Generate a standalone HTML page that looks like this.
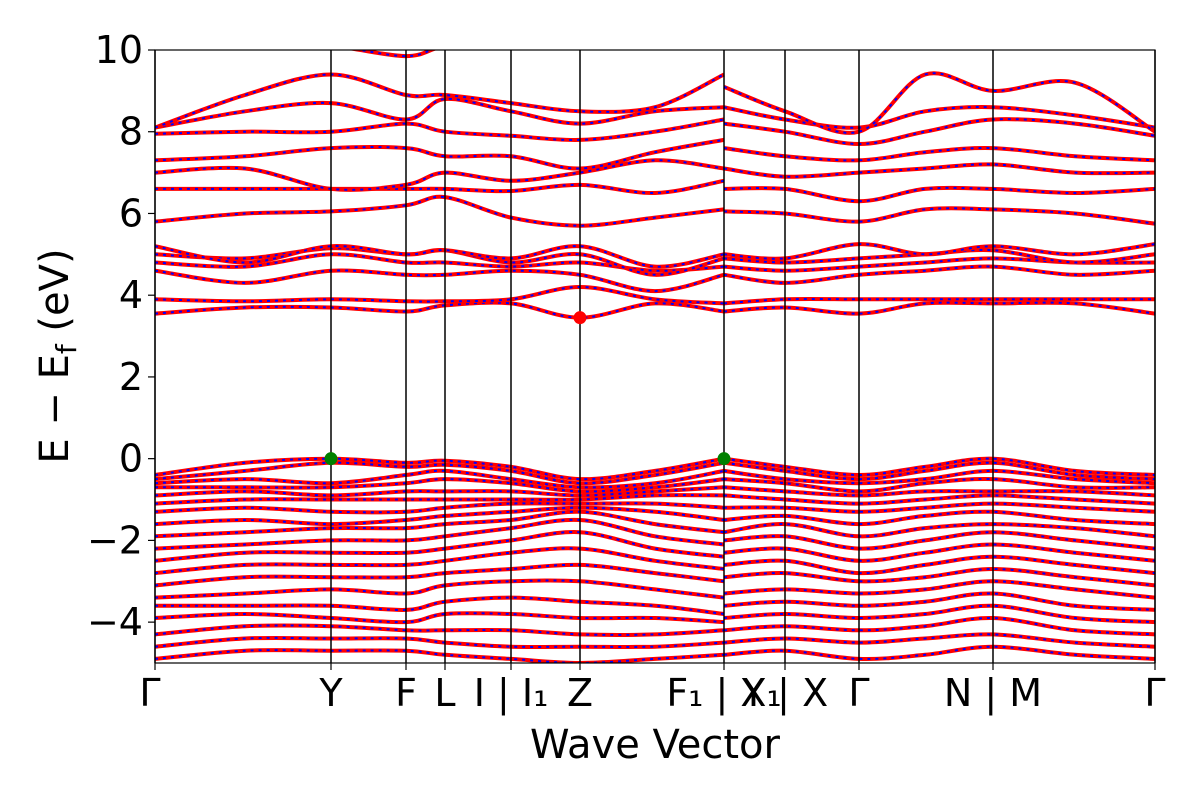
<!DOCTYPE html>
<html><head><meta charset="utf-8"><style>
body{margin:0;background:#fff}
svg text{font-family:"DejaVu Sans","Liberation Sans",sans-serif;fill:#000}
</style></head><body>
<svg id="chart" width="1200" height="800" viewBox="0 0 1200 800" xmlns="http://www.w3.org/2000/svg">
<defs><clipPath id="plotclip"><rect x="155" y="50" width="1000" height="613"/></clipPath></defs>
<g id="bands" clip-path="url(#plotclip)"></g>
<g id="vlines"></g>
<g id="dots"></g>
<rect x="155" y="50" width="1000" height="613" fill="none" stroke="#000" stroke-width="1.2"/>
<g id="yticks"></g>
<g id="xticks"></g>
<text x="655" y="758" font-size="40" text-anchor="middle">Wave Vector</text>
<text transform="translate(68,356) rotate(-90)" font-size="40" text-anchor="middle">E − E<tspan font-size="28" dy="8">f</tspan><tspan dy="-8"> (eV)</tspan></text>
</svg>
<script>
const kNodes=[0,0.9,1.76,2.51,2.90,3.56,4.25,5.0,5.69,5.69,6.30,7.04,7.7,8.38,9.2,10.0];
const symK=[0,1.76,2.51,2.90,3.56,4.25,5.69,6.30,7.04,8.38,10.0];
const symLabels=["Γ","Y","F","L","I | I₁","Z","F₁ | X₁","Y | X","Γ","N | M","Γ"];
const yTicks=[10,8,6,4,2,0,-2,-4];
const yTickLabels=["10","8","6","4","2","0","−2","−4"];
const conduction=[
[3.55,3.7,3.7,3.6,3.75,3.8,3.45,3.8,3.6,3.6,3.7,3.55,3.8,3.8,3.8,3.55],
[3.9,3.85,3.9,3.85,3.85,3.9,4.2,3.9,3.8,3.8,3.9,3.9,3.9,3.9,3.9,3.9],
[4.6,4.3,4.6,4.5,4.5,4.6,4.5,4.1,4.5,4.5,4.3,4.5,4.6,4.7,4.5,4.6],
[4.8,4.7,5.0,4.8,4.8,4.7,4.8,4.6,4.7,4.7,4.6,4.7,4.8,4.9,4.8,4.8],
[5.0,4.9,5.15,5.0,5.1,4.8,5.0,4.5,4.9,4.9,4.8,4.9,5.0,5.1,4.8,5.0],
[5.2,4.8,5.2,5.0,5.1,4.9,5.2,4.7,5.0,5.0,4.9,5.25,5.0,5.2,5.0,5.25],
[5.8,6.0,6.05,6.2,6.4,5.9,5.7,5.9,6.1,6.05,6.0,5.8,6.1,6.1,6.0,5.75],
[6.6,6.6,6.6,6.6,6.6,6.55,6.7,6.5,6.8,6.6,6.6,6.3,6.6,6.6,6.5,6.6],
[7.0,7.1,6.6,6.7,7.0,6.8,7.0,7.3,7.1,7.1,6.9,7.0,7.1,7.2,7.0,7.0],
[7.3,7.4,7.6,7.6,7.4,7.4,7.1,7.5,7.8,7.6,7.4,7.3,7.5,7.6,7.4,7.3],
[7.95,8.0,8.0,8.2,8.0,7.9,7.8,8.0,8.3,8.2,8.0,7.7,8.0,8.3,8.2,7.9],
[8.1,8.5,8.7,8.3,8.8,8.5,8.2,8.5,8.6,8.6,8.3,8.1,8.5,8.6,8.4,8.1],
[8.1,8.9,9.4,8.9,8.9,8.7,8.5,8.6,9.4,9.1,8.5,8.0,9.4,9.0,9.2,8.0],
[10.3,10.2,10.1,9.85,10.1,10.3,10.5,10.5,10.5,10.3,10.3,10.3,10.2,10.1,10.05,10.3]];
const valence=[
[-0.4,-0.1,0,-0.1,-0.05,-0.2,-0.5,-0.3,0,0,-0.2,-0.4,-0.2,0,-0.3,-0.4],
[-0.5,-0.3,-0.1,-0.2,-0.15,-0.3,-0.6,-0.4,-0.1,-0.1,-0.3,-0.5,-0.3,-0.1,-0.4,-0.5],
[-0.6,-0.5,-0.6,-0.4,-0.3,-0.5,-0.7,-0.6,-0.3,-0.3,-0.5,-0.6,-0.5,-0.3,-0.5,-0.6],
[-0.7,-0.7,-0.7,-0.6,-0.5,-0.6,-0.8,-0.7,-0.5,-0.5,-0.6,-0.8,-0.6,-0.5,-0.7,-0.7],
[-0.9,-0.8,-0.9,-0.8,-0.8,-0.8,-0.9,-0.8,-0.7,-0.7,-0.8,-0.9,-0.8,-0.8,-0.8,-0.9],
[-1.1,-1.0,-1.0,-1.0,-1.0,-1.0,-1.0,-0.9,-0.9,-0.9,-1.0,-1.1,-1.0,-0.9,-1.0,-1.1],
[-1.3,-1.2,-1.3,-1.3,-1.2,-1.1,-1.1,-1.1,-1.2,-1.2,-1.2,-1.3,-1.2,-1.1,-1.2,-1.3],
[-1.6,-1.5,-1.6,-1.5,-1.4,-1.3,-1.2,-1.3,-1.5,-1.5,-1.4,-1.6,-1.4,-1.3,-1.5,-1.6],
[-1.9,-1.8,-1.7,-1.7,-1.6,-1.5,-1.3,-1.6,-1.8,-1.8,-1.6,-1.9,-1.7,-1.6,-1.7,-1.9],
[-2.2,-2.1,-2.0,-2.0,-1.9,-1.7,-1.5,-1.9,-2.1,-2.0,-1.9,-2.2,-2.0,-1.8,-2.0,-2.2],
[-2.5,-2.3,-2.3,-2.3,-2.2,-2.0,-1.8,-2.2,-2.4,-2.3,-2.2,-2.5,-2.3,-2.1,-2.3,-2.5],
[-2.8,-2.6,-2.6,-2.6,-2.5,-2.3,-2.2,-2.5,-2.7,-2.6,-2.5,-2.8,-2.6,-2.4,-2.6,-2.8],
[-3.1,-2.9,-2.9,-2.9,-2.8,-2.7,-2.6,-2.8,-3.0,-2.9,-2.8,-3.0,-2.9,-2.7,-2.9,-3.1],
[-3.4,-3.3,-3.2,-3.3,-3.1,-3.0,-3.0,-3.2,-3.4,-3.3,-3.2,-3.3,-3.2,-3.0,-3.2,-3.4],
[-3.6,-3.6,-3.6,-3.7,-3.5,-3.4,-3.5,-3.6,-3.8,-3.6,-3.5,-3.6,-3.5,-3.3,-3.6,-3.7],
[-3.9,-3.8,-3.9,-4.0,-3.8,-3.8,-3.9,-3.9,-4.0,-3.9,-3.8,-3.9,-3.8,-3.6,-3.9,-4.0],
[-4.3,-4.1,-4.1,-4.2,-4.2,-4.2,-4.3,-4.3,-4.2,-4.2,-4.1,-4.2,-4.1,-3.9,-4.2,-4.3],
[-4.6,-4.4,-4.4,-4.4,-4.5,-4.6,-4.6,-4.6,-4.5,-4.5,-4.4,-4.5,-4.4,-4.3,-4.5,-4.6],
[-4.9,-4.7,-4.7,-4.7,-4.8,-4.9,-5.0,-4.9,-4.8,-4.8,-4.7,-4.9,-4.8,-4.6,-4.8,-4.9]];
const vbmK=[1.76,5.69];const vbmE=[0,0];
const cbmK=[4.25];const cbmE=[3.45];

const NS="http://www.w3.org/2000/svg";
const X0=155,X1=1155,Y0=50,Y1=663,KMAX=10,EMIN=-5,EMAX=10;
const xs=k=>X0+(k/KMAX)*(X1-X0);
const ys=e=>Y1-(e-EMIN)/(EMAX-EMIN)*(Y1-Y0);
function mk(tag,attrs,parent){const el=document.createElementNS(NS,tag);for(const a in attrs)el.setAttribute(a,attrs[a]);parent.appendChild(el);return el;}
function segPath(p){
  let d=`M${p[0][0].toFixed(1)},${p[0][1].toFixed(1)}`;
  for(let i=0;i<p.length-1;i++){
    const a=p[i-1]||p[i],b=p[i],c=p[i+1],e=p[i+2]||c;
    const c1=[b[0]+(c[0]-a[0])/6,b[1]+(c[1]-a[1])/6];
    const c2=[c[0]-(e[0]-b[0])/6,c[1]-(e[1]-b[1])/6];
    d+=` C${c1[0].toFixed(1)},${c1[1].toFixed(1)} ${c2[0].toFixed(1)},${c2[1].toFixed(1)} ${c[0].toFixed(1)},${c[1].toFixed(1)}`;
  }
  return d;
}
function pathFor(vals){
  const segs=[[]];
  kNodes.forEach((k,i)=>{
    if(i>0 && Math.abs(k-kNodes[i-1])<1e-6) segs.push([]);
    segs[segs.length-1].push([xs(k),ys(vals[i])]);
  });
  return segs.filter(s=>s.length>1).map(segPath).join(' ');
}
const bands=document.getElementById('bands');
[...conduction,...valence].forEach((b,i)=>{
  const d=pathFor(b);
  const r=mk('path',{d:d,fill:'none',stroke:'#ff0000','stroke-width':4},bands);
  
  
  const bl=mk('path',{d:d,fill:'none',stroke:'#0000ff','stroke-width':2,'stroke-dasharray':'3,5'},bands);
  
  
});
const vl=document.getElementById('vlines');
symK.forEach(k=>{
  const l=mk('line',{x1:xs(k),x2:xs(k),y1:Y0,y2:Y1,stroke:'#000','stroke-width':1.5},vl);
  
  
});
const dots=document.getElementById('dots');
vbmK.forEach((k,i)=>{
  const c=mk('circle',{cx:xs(k),cy:ys(vbmE[i]),r:6.5,fill:'#008000'},dots);
  
  
});
cbmK.forEach((k,i)=>{
  const c=mk('circle',{cx:xs(k),cy:ys(cbmE[i]),r:6.5,fill:'#ff0000'},dots);
  
  
});
const yt=document.getElementById('yticks');
yTicks.forEach((v,i)=>{
  const t=mk('line',{x1:X0-7,x2:X0,y1:ys(v),y2:ys(v),stroke:'#000','stroke-width':1.2},yt);
  
  
  const tx=mk('text',{x:X0-12,y:ys(v)+13,'font-size':38,'text-anchor':'end'},yt);
  tx.textContent=yTickLabels[i];
  
  
});
const xt=document.getElementById('xticks');
symK.forEach((k,i)=>{
  const t=mk('line',{x1:xs(k),x2:xs(k),y1:Y1,y2:Y1+7,stroke:'#000','stroke-width':1.2},xt);
  
  
  const tx=mk('text',{x:xs(k)-(i===0?5:0),y:706,'font-size':38,'text-anchor':'middle'},xt);
  tx.textContent=symLabels[i];
  
  
});
</script>
</body></html>
